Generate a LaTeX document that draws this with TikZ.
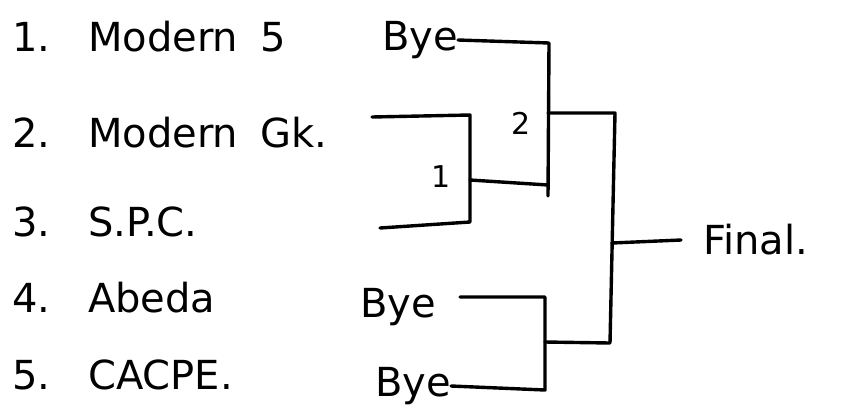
\documentclass[tikz,border=0pt]{standalone}
\usepackage{fontspec}
\setmainfont{DejaVu Sans}

\tikzset{
  bracket/.style={line width=3.4pt,line cap=round,line join=round},
  team/.style={anchor=west,inner sep=0pt,font=\fontsize{40}{40}\selectfont},
  round/.style={inner sep=0pt,font=\fontsize{30}{30}\selectfont}
}

\begin{document}
\begin{tikzpicture}[x=1pt,y=-1pt]
			\useasboundingbox (0,0) rectangle (842,405);
			% the five teams
			\foreach \i/\name/\y in {1/Modern\hspace{22pt}5/37,2/Modern\hspace{22pt}Gk./133,3/S.P.C./222,4/Abeda/298,5/CACPE./375}{
				\node[team] (n\i) at (12,\y) {\i.};
				\node[team] (t\i) at (88,\y) {\name};
			}
			% byes
			\node[team] (bye1) at (382,40) {Bye};
			\node[team] (bye4) at (360,307) {Bye};
			\node[team] (bye5) at (375,386) {Bye};
			% round labels
			\node[round] (r1) at (441,177) {1};
			\node[round] (r2) at (521,123) {2};
			\node[team] (fin) at (703,240) {Final.};
			% first match
			\coordinate (s2) at (372,117);
			\coordinate (s3) at (380,228);
			\coordinate (m1a) at (470,115);
			\coordinate (m1b) at (470,222);
			\coordinate (m1) at (470,180);
			\draw[bracket] (s2) -- (m1a) -- (m1b) -- (s3);
			% second match
			\coordinate (m2a) at (549,43);
			\coordinate (m2b) at (548,196);
			\coordinate (m2) at (548,113);
			\coordinate (m1e) at (548,185);
			\draw[bracket] (bye1.east) -- (m2a) -- (m2b);
			\draw[bracket] (m1) -- (m1e);
			% bottom pair
			\coordinate (b4) at (460,297);
			\coordinate (m3a) at (545,297);
			\coordinate (m3b) at (545,390);
			\coordinate (m3) at (545,342);
			\draw[bracket] (b4) -- (m3a) -- (m3b) -- (bye5.east);
			% final
			\coordinate (fa) at (615,113);
			\coordinate (fb) at (610,343);
			\coordinate (f) at (612,243);
			\draw[bracket] (m2) -- (fa) -- (fb) -- (m3);
			\draw[bracket] (f) -- ([xshift=-22pt]fin.west);
		\end{tikzpicture}
\end{document}
